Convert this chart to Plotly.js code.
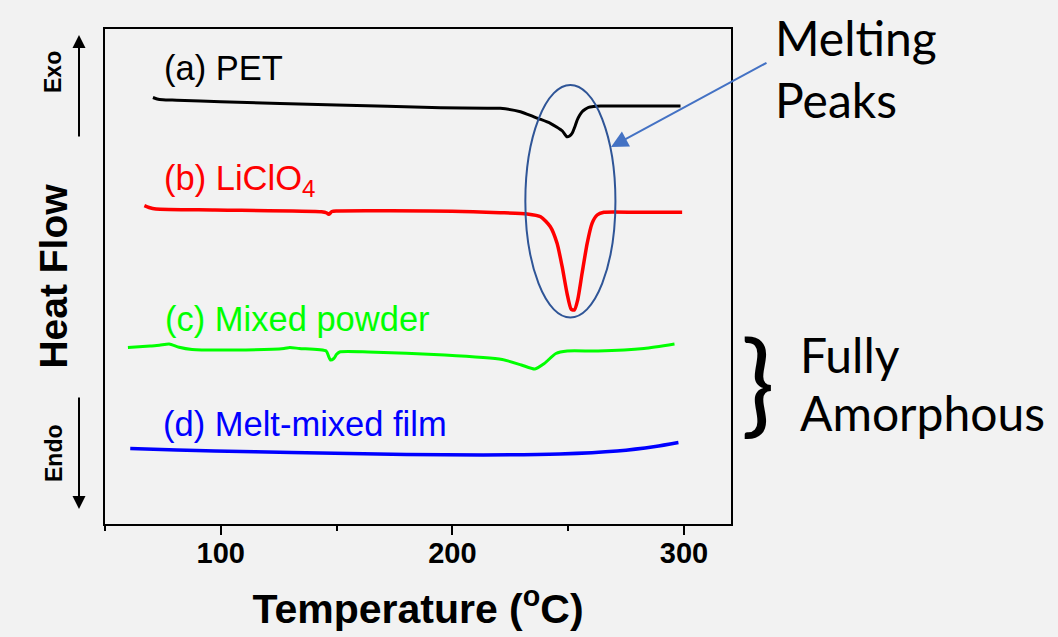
<!DOCTYPE html>
<html>
<head>
<meta charset="utf-8">
<script src="https://cdn.plot.ly/plotly-3.0.1.min.js"></script>
<style>html,body{margin:0;padding:0;background:#F2F2F2;}</style>
</head>
<body>
<div id="chart" style="width:1058px;height:637px;"></div>
<script>
// Temperature (°C) and heat flow (arbitrary units, curves offset vertically)
const petT  = [70.7, 72.5, 75, 81, 100, 150, 195, 215, 220.7, 229.4, 235, 238, 242.3, 245, 247.5, 249.5, 250.6, 251.7, 253, 253.9, 255, 256, 257.5, 258.8, 261, 264, 280, 298.5];
const petHF = [85.3, 85.0, 84.84, 84.76, 84.46, 83.8, 83.26, 83.16, 83.14, 82.46, 81.46, 80.94, 80.14, 79.4, 78.6, 77.46, 77.6, 78.14, 79.6, 80.8, 81.8, 82.46, 83.0, 83.34, 83.5, 83.6, 83.6, 83.6];

const liT  = [67.0, 69, 72, 97.5, 143.5, 145.8, 146.6, 148, 150, 200, 220.7, 232.3, 238.1, 242.3, 245.2, 247.4, 249.5, 251.3, 252.7, 254.1, 256.0, 258.2, 260.3, 262.5, 265.4, 280, 299.2];
const liHF = [63.66, 63.3, 63.0, 62.8, 62.46, 62.2, 61.94, 62.5, 62.6, 62.56, 62.26, 62.0, 61.46, 59.46, 56.14, 51.46, 46.14, 42.94, 42.8, 44.8, 50.14, 56.14, 60.14, 61.8, 62.34, 62.34, 62.34];

const mixT  = [59.9, 69.5, 73.5, 77.7, 82, 87.6, 105.8, 127.3, 129.8, 133.9, 145.5, 146.6, 147.3, 148.8, 150, 151.3, 163.7, 196.7, 221.5, 229.8, 235.6, 239.7, 244.7, 249.6, 262.9, 282.7, 295.9];
const mixHF = [35.3, 35.6, 35.74, 36.0, 35.34, 34.9, 34.8, 35.1, 35.3, 35.1, 34.6, 33.46, 32.8, 33.1, 33.94, 34.4, 34.4, 33.8, 32.9, 31.8, 31.0, 32.1, 34.1, 34.6, 34.6, 35.1, 36.0];

const filmT  = [60.9, 81.0, 97.5, 130.6, 180.2, 213.3, 246.3, 271.1, 287.6, 297.6];
const filmHF = [15.1, 14.8, 14.6, 14.3, 13.9, 13.8, 14.0, 14.6, 15.5, 16.3];

const seriesNames = ['(a) PET', '(b) LiClO<sub>4</sub>', '(c) Mixed powder', '(d) Melt-mixed film'];
const seriesColors = ['#000000', '#FF0000', '#00FF00', '#0000FF'];
const tickVals = [100, 200, 300];
const tickText = ['100', '200', '300'];

const ARIAL = 'Liberation Sans, Arial, sans-serif';
const CALI = 'Lato, Carlito, Calibri, sans-serif';

const xs = [petT, liT, mixT, filmT];
const ys = [petHF, liHF, mixHF, filmHF];
const widths = [3, 3.5, 3, 3.5];

const traces = xs.map((x, i) => ({
  x: x, y: ys[i], type: 'scatter', mode: 'lines',
  name: seriesNames[i],
  line: {color: seriesColors[i], width: widths[i], shape: 'spline', smoothing: 0.6},
  hoverinfo: 'skip'
}));

// pixel helpers for paper coords (plot area: x 105..731, y 29..524)
const L = 105, R = 731, T = 29, B = 524;
const px = v => (v - L) / (R - L);
const py = v => (B - v) / (B - T);

const labelY = [95.4, 73.4, 45.2, 24.2];
const labelX = [74.6, 74.6, 75.0, 74.2];

const annotations = seriesNames.map((s, i) => ({
  x: labelX[i], y: labelY[i], xref: 'x', yref: 'y',
  xanchor: 'left', yanchor: 'top', showarrow: false,
  text: s, font: {family: ARIAL, size: 34.5, color: seriesColors[i]}
}));

annotations.push(
  {xref: 'paper', yref: 'paper', x: px(53), y: py(72), text: 'Exo', textangle: -90,
   showarrow: false, xanchor: 'center', yanchor: 'middle',
   font: {family: ARIAL, size: 23, color: '#000', weight: 'bold'}},
  {xref: 'paper', yref: 'paper', x: px(54), y: py(453), text: 'Endo', textangle: -90,
   showarrow: false, xanchor: 'center', yanchor: 'middle',
   font: {family: ARIAL, size: 23, color: '#000', weight: 'bold'}},
  {xref: 'paper', yref: 'paper', x: px(79), y: py(35), ax: 0, ay: 103, axref: 'pixel', ayref: 'pixel',
   text: '', showarrow: true, arrowhead: 2, arrowsize: 1.3, arrowwidth: 2, arrowcolor: '#000'},
  {xref: 'paper', yref: 'paper', x: px(79), y: py(509), ax: 0, ay: -113, axref: 'pixel', ayref: 'pixel',
   text: '', showarrow: true, arrowhead: 2, arrowsize: 1.3, arrowwidth: 2, arrowcolor: '#000'},
  {xref: 'paper', yref: 'paper', x: px(611), y: py(147), ax: 157, ay: -85, axref: 'pixel', ayref: 'pixel',
   text: '', showarrow: true, arrowhead: 2, arrowsize: 1.7, arrowwidth: 2, arrowcolor: '#4472C4'},
  {xref: 'paper', yref: 'paper', x: px(773), y: py(7), xanchor: 'left', yanchor: 'top', align: 'left',
   text: 'Melting<br>Peaks', showarrow: false,
   font: {family: CALI, size: 48, color: '#000'}},
  {xref: 'paper', yref: 'paper', x: px(757.5), y: py(379.5), xanchor: 'center', yanchor: 'middle',
   text: '}', showarrow: false,
   font: {family: CALI, size: 112, color: '#000'}},
  {xref: 'paper', yref: 'paper', x: px(798), y: py(324), xanchor: 'left', yanchor: 'top', align: 'left',
   text: 'Fully', showarrow: false,
   font: {family: CALI, size: 48, color: '#000'}},
  {xref: 'paper', yref: 'paper', x: px(798), y: py(382), xanchor: 'left', yanchor: 'top', align: 'left',
   text: 'Amorphous', showarrow: false,
   font: {family: CALI, size: 48, color: '#000'}}
);

const layout = {
  width: 1058, height: 637,
  margin: {l: 105, r: 327, t: 29, b: 113, pad: 0},
  paper_bgcolor: '#F2F2F2', plot_bgcolor: '#F2F2F2',
  showlegend: false,
  xaxis: {
    range: [50, 320.3], autorange: false, automargin: false,
    showline: true, linecolor: '#000', linewidth: 2, mirror: true,
    showgrid: false, zeroline: false,
    tickmode: 'array', tickvals: tickVals, ticktext: tickText,
    ticks: 'outside', ticklen: 9, tickwidth: 2, tickcolor: '#000',
    ticklabelstandoff: -7,
    minor: {tickmode: 'linear', tick0: 0, dtick: 50, ticks: 'outside', ticklen: 5, tickwidth: 2, tickcolor: '#000', showgrid: false},
    tickfont: {family: ARIAL, size: 29, color: '#000', weight: 'bold'},
    title: {text: 'Temperature (<sup>o</sup>C)', standoff: 27,
            font: {family: ARIAL, size: 41, color: '#000', weight: 'bold'}}
  },
  yaxis: {
    range: [0, 99], autorange: false, automargin: false,
    showline: true, linecolor: '#000', linewidth: 2, mirror: true,
    showgrid: false, zeroline: false, showticklabels: false, ticks: '',
    title: {text: 'Heat Flow', standoff: 23,
            font: {family: ARIAL, size: 39, color: '#000', weight: 'bold'}}
  },
  shapes: [
    {type: 'circle', xref: 'x', yref: 'y', x0: 231.5, x1: 270.4, y0: 41.3, y1: 87.8,
     line: {color: '#2F5597', width: 2}, layer: 'above'}
  ],
  annotations: annotations
};

Plotly.newPlot('chart', traces, layout, {staticPlot: true, displayModeBar: false});
</script>
</body>
</html>
